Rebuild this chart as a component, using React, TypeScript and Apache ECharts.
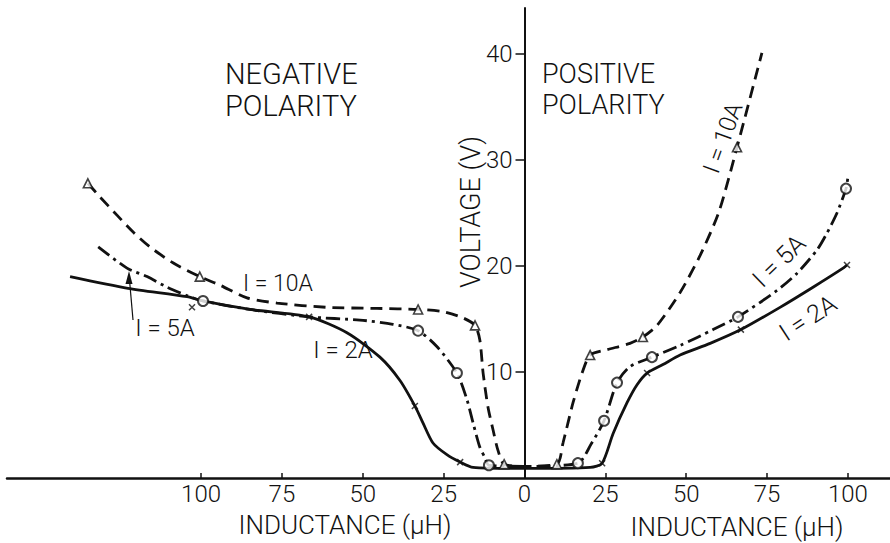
import React, { useEffect, useRef } from "react";
import * as echarts from "echarts";

// Axis tick values (µH on both sides of the voltage axis; left side shown as absolute values)
const xTickValues = [-100, -75, -50, -25, 0, 25, 50, 75, 100];
const yTickValues = [10, 20, 30, 40];

// Curves: [inductance (negative = negative polarity side), voltage]
const curve10A: [number, number][] = [
  [-135.0, 27.8], [-131.2, 26.5], [-126.0, 24.8], [-121.0, 23.2], [-115.8, 21.8],
  [-108.7, 20.3], [-100.4, 19.0], [-94.2, 18.2], [-85.8, 17.0], [-76.5, 16.5],
  [-61.1, 16.1], [-45.6, 16.0], [-32.9, 15.9], [-25.2, 15.7], [-19.0, 15.1],
  [-15.3, 14.4], [-13.8, 13.0], [-12.8, 9.9], [-11.3, 6.7], [-9.7, 4.5],
  [-8.2, 2.6], [-6.3, 1.3], [0, 1.1], [10.0, 1.3], [11.9, 3.3], [15.0, 7.1],
  [17.8, 9.9], [20.3, 11.6], [25.5, 12.1], [32.6, 12.7], [36.6, 13.3],
  [41.0, 14.4], [48.1, 17.5], [54.3, 21.0], [60.1, 25.1], [65.7, 31.2], [73.4, 40.1],
];
const curve5A: [number, number][] = [
  [-131.8, 21.8], [-122.9, 19.8], [-116.7, 19.0], [-110.5, 18.0], [-104.3, 17.2],
  [-99.4, 16.7], [-84.9, 15.9], [-66.6, 15.2], [-50.9, 14.9], [-40.7, 14.5],
  [-32.9, 13.9], [-27.1, 12.4], [-20.9, 9.9], [-17.8, 7.4], [-15.9, 5.2],
  [-13.8, 2.9], [-12.2, 1.9], [-11.0, 1.2], [0, 1.1], [16.5, 1.4], [20.6, 3.2],
  [24.6, 5.4], [28.6, 9.0], [32.6, 10.5], [39.4, 11.4], [48.1, 12.5], [58.3, 14.0],
  [66.0, 15.2], [78.1, 17.7], [84.2, 19.3], [90.4, 21.5], [93.5, 23.1], [96.6, 25.0],
  [99.4, 27.3], [100.0, 28.4],
];
const curve2A: [number, number][] = [
  [-140.5, 19.0], [-122.6, 17.9], [-104.3, 17.1], [-99.4, 16.7], [-84.9, 15.9],
  [-66.6, 15.2], [-54.9, 13.7], [-44.7, 11.4], [-38.5, 9.2], [-33.9, 6.8],
  [-31.4, 5.2], [-28.3, 3.3], [-24.0, 2.2], [-19.9, 1.5], [-15.9, 1.0], [0, 0.9],
  [20.3, 1.0], [24.0, 1.4], [27.4, 4.2], [31.7, 7.1], [34.8, 8.8], [37.9, 9.9],
  [42.8, 10.7], [48.1, 11.6], [57.4, 12.7], [66.9, 14.0], [79.0, 16.1], [89.2, 18.0],
  [98.5, 19.8], [99.7, 20.1],
];

// Measured points
const marks10A: [number, number][] = [
  [-135.0, 27.8], [-100.4, 19.0], [-32.9, 15.9], [-15.3, 14.4], [-6.3, 1.3],
  [10.0, 1.3], [20.3, 11.6], [36.6, 13.3], [65.7, 31.2],
];
const marks5A: [number, number][] = [
  [-99.4, 16.7], [-32.9, 13.9], [-20.9, 9.9], [-11.0, 1.2], [16.5, 1.4],
  [24.6, 5.4], [28.6, 9.0], [39.4, 11.4], [66.0, 15.2], [99.4, 27.3],
];
const marks2A: [number, number][] = [
  [-102.8, 16.1], [-66.6, 15.2], [-33.9, 6.8], [-19.9, 1.5], [24.0, 1.4],
  [37.9, 9.9], [66.9, 14.0], [99.7, 20.1],
];

const FONT = "Roboto, 'DejaVu Sans', sans-serif";
const INK = "#111";

const X_MIN = -160;
const X_MAX = 113;
const GRID_LEFT = 7;
const GRID_WIDTH = 883;

function txt(text: string, x: number, y: number, size: number, rotation = 0, align = "center") {
  return {
    type: "text",
    x,
    y,
    rotation,
    silent: true,
    style: {
      text,
      fill: INK,
      fontSize: size,
      fontFamily: FONT,
      fontWeight: 300,
      align,
      verticalAlign: "middle",
    },
  };
}

export default function App() {
  const ref = useRef<HTMLDivElement>(null);
  useEffect(() => {
    const chart = echarts.init(ref.current!, null, { renderer: "svg" });
    const lineBase = { type: "line", showSymbol: false, smooth: 0.25, silent: true, z: 2 };
    // shift the voltage axis (with its labels) to the x = 0 position
    const zeroOffset = ((0 - X_MIN) / (X_MAX - X_MIN)) * GRID_WIDTH;
    chart.setOption({
      animation: false,
      backgroundColor: "#fff",
      grid: { left: GRID_LEFT, right: 0, top: 8, bottom: 65, containLabel: false, outerBoundsMode: "none" },
      xAxis: {
        type: "value",
        min: X_MIN,
        max: X_MAX,
        axisLine: { onZero: true, lineStyle: { color: INK, width: 2.5 } },
        axisTick: { show: true, inside: true, length: 5, customValues: xTickValues, lineStyle: { color: INK, width: 1.5 } },
        axisLabel: {
          customValues: xTickValues,
          formatter: (v: number) => String(Math.abs(v)),
          color: INK,
          fontSize: 24,
          fontFamily: FONT,
          fontWeight: 300,
          margin: 4,
        },
        splitLine: { show: false },
      },
      yAxis: {
        type: "value",
        min: 0,
        max: 44.34,
        offset: -zeroOffset,
        axisLine: { show: true, onZero: false, lineStyle: { color: INK, width: 2 } },
        axisTick: { show: true, length: 9, customValues: yTickValues, lineStyle: { color: INK, width: 1.5 } },
        axisLabel: {
          customValues: yTickValues,
          color: INK,
          fontSize: 24,
          fontFamily: FONT,
          fontWeight: 300,
          margin: 12,
        },
        splitLine: { show: false },
      },
      series: [
        { ...lineBase, name: "I = 10A", data: curve10A, lineStyle: { color: INK, width: 2.8, type: [12, 7] } },
        { ...lineBase, name: "I = 5A", data: curve5A, lineStyle: { color: INK, width: 2.8, type: [14, 5, 3, 5] } },
        { ...lineBase, name: "I = 2A", data: curve2A, lineStyle: { color: INK, width: 2.8 } },
        {
          type: "scatter", data: marks10A, symbol: "triangle", symbolSize: 9, z: 3, silent: true,
          itemStyle: { color: "#fff", borderColor: INK, borderWidth: 1.6 },
        },
        {
          type: "scatter", data: marks5A, symbol: "circle", symbolSize: 10, z: 3, silent: true,
          itemStyle: { color: "#fff", borderColor: INK, borderWidth: 2 },
        },
        {
          type: "scatter", data: marks2A, symbol: "path://M0 0L10 10M10 0L0 10", symbolSize: 6, z: 3, silent: true,
          itemStyle: { color: "transparent", borderColor: INK, borderWidth: 1.5 },
        },
      ],
      graphic: [
        txt("NEGATIVE", 225, 74, 29, 0, "left"),
        txt("POLARITY", 225, 106, 29, 0, "left"),
        txt("POSITIVE", 542, 74, 27, 0, "left"),
        txt("POLARITY", 542, 105, 27, 0, "left"),
        txt("VOLTAGE (V)", 471, 212, 27, Math.PI / 2),
        txt("INDUCTANCE (μH)", 345, 525, 26),
        txt("INDUCTANCE (μH)", 737, 527, 26),
        txt("I = 10A", 278, 283, 23),
        txt("I = 5A", 165, 328, 24),
        txt("I = 2A", 343, 350, 24),
        txt("I = 10A", 723, 138, 24, (70 * Math.PI) / 180),
        txt("I = 5A", 779, 261, 25, (44 * Math.PI) / 180),
        txt("I = 2A", 808, 318, 25, (33 * Math.PI) / 180),
        {
          type: "line", silent: true,
          shape: { x1: 133, y1: 320, x2: 129.5, y2: 280 },
          style: { stroke: INK, lineWidth: 1.2 },
        },
        {
          type: "polygon", silent: true,
          shape: { points: [[129, 271], [125.5, 284], [132.5, 284]] },
          style: { fill: INK },
        },
      ],
    });
    return () => chart.dispose();
  }, []);
  return (
    <div
      ref={ref}
      style={{ position: "fixed", left: 0, top: 0, width: 890, height: 543, background: "#fff" }}
    />
  );
}
